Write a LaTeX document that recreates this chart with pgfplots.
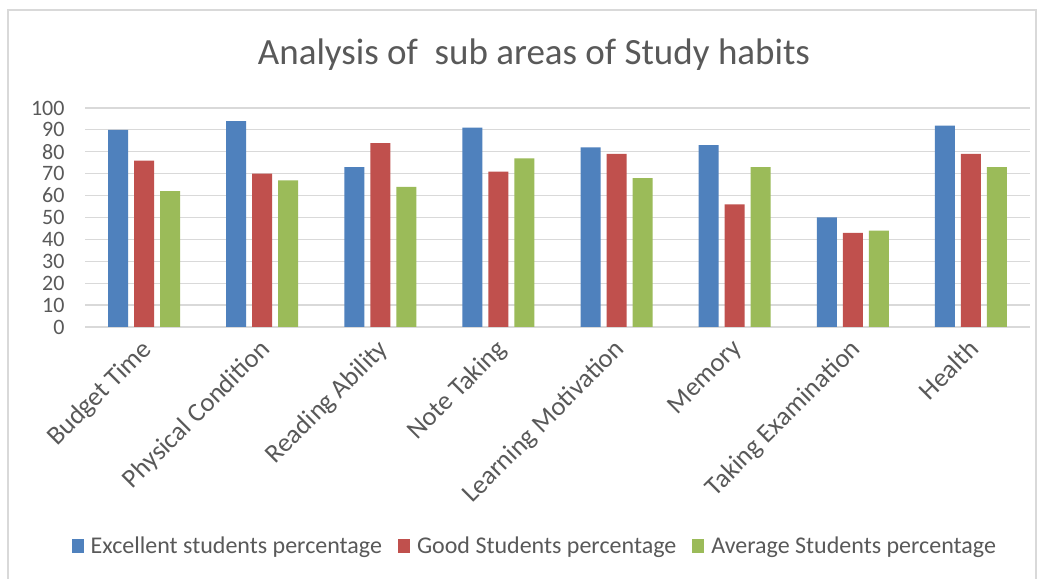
\documentclass[border=0pt]{standalone}
\usepackage{fontspec}
\setmainfont{Carlito}
\usepackage{pgfplots}
\pgfplotsset{compat=1.18}
\definecolor{cblue}{HTML}{4F81BD}
\definecolor{cred}{HTML}{C0504D}
\definecolor{cgreen}{HTML}{9BBB59}
\definecolor{ctext}{HTML}{595959}
\definecolor{cgrid}{HTML}{D9D9D9}
\begin{document}
\begin{tikzpicture}[x=1pt,y=1pt]
\useasboundingbox (0,0) rectangle (1043,578);
\fill[white] (0,0) rectangle (1043,578);
\draw[cgrid, line width=1.5pt] (8,-5) -- (8,568) -- (1036,568) -- (1036,-5);
\node[text=ctext, font=\fontsize{37}{42}\selectfont] at (534,523) {Analysis of\ \ sub areas of Study habits};
\begin{axis}[
  at={(85pt,251pt)}, anchor=south west,
  scale only axis, width=945pt, height=219pt,
  ymin=0, ymax=100, ytick={0,10,...,100},
  xmin=-0.5, xmax=7.5,
  xtick={0,...,7},
  xticklabels={Budget Time,Physical Condition,Reading Ability,Note Taking,Learning Motivation,Memory,Taking Examination,Health},
  x tick label style={yshift=-9pt, xshift=-4pt, rotate=45, anchor=north east, font=\fontsize{26.5}{29}\selectfont, text=ctext, inner sep=1pt},
  y tick label style={font=\fontsize{22}{24}\selectfont, text=ctext, xshift=-17pt},
  /pgf/number format/assume math mode=true,
  ymajorgrids, grid style={cgrid, line width=1.2pt},
  axis x line*=bottom, axis y line*=left,
  y axis line style={draw=none},
  x axis line style={cgrid, line width=1.2pt, -},
  major tick length=0pt,
  ybar=6pt, bar width=20pt,
  legend style={at={(0.476,-1.0)}, anchor=center, draw=none, fill=none,
    legend columns=3, font=\fontsize{24}{26}\selectfont, text=ctext,
    /tikz/every even column/.append style={column sep=14pt},
    /tikz/every odd column/.append style={column sep=5pt}},
  legend image code/.code={\fill[#1] (0pt,-7pt) rectangle (12pt,7pt);},
  clip=false,
]
\addplot[fill=cblue, draw=none] coordinates {(0,90) (1,94) (2,73) (3,91) (4,82) (5,83) (6,50) (7,92)};
\addplot[fill=cred, draw=none] coordinates {(0,76) (1,70) (2,84) (3,71) (4,79) (5,56) (6,43) (7,79)};
\addplot[fill=cgreen, draw=none] coordinates {(0,62) (1,67) (2,64) (3,77) (4,68) (5,73) (6,44) (7,73)};
\legend{Excellent students percentage,Good Students percentage,Average Students percentage}
\end{axis}
\end{tikzpicture}
\end{document}
